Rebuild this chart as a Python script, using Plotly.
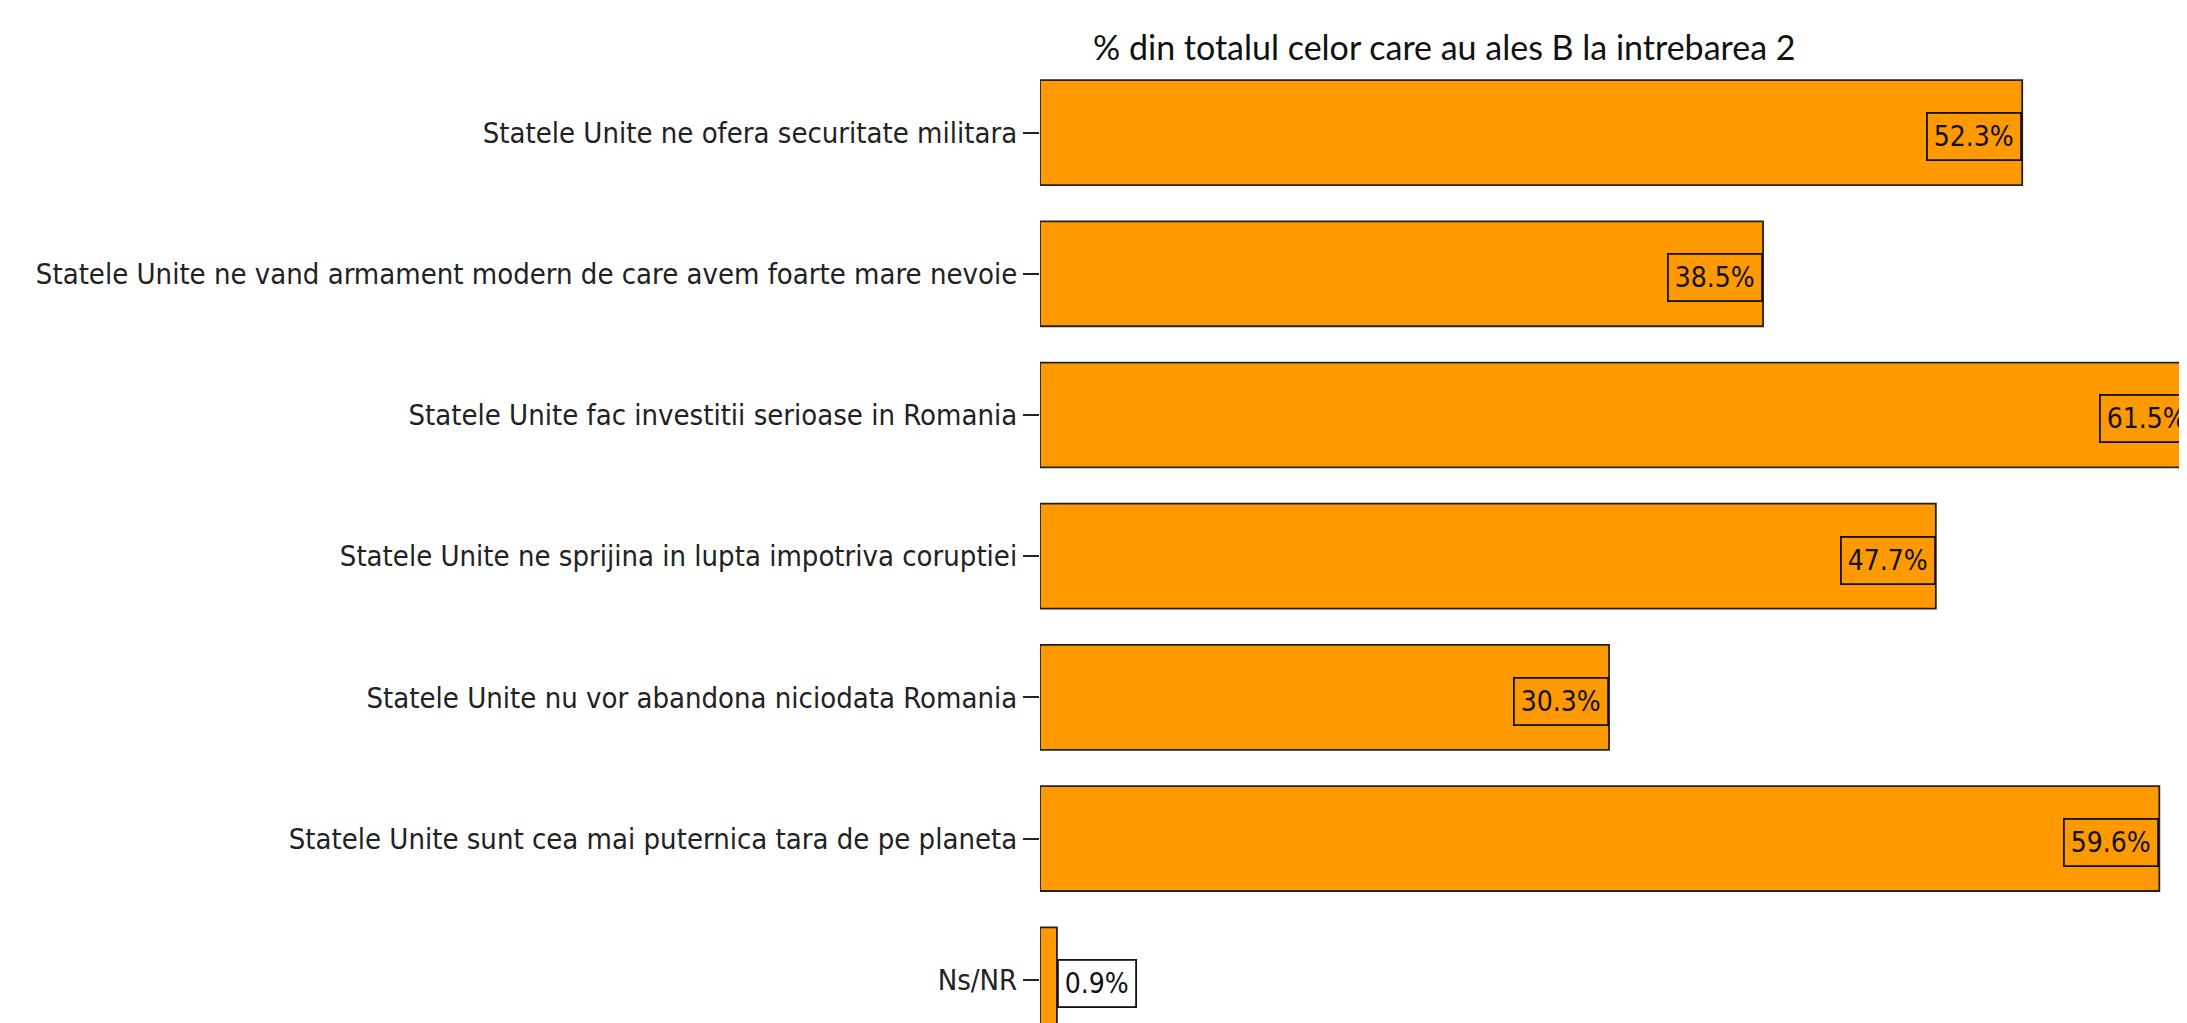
import plotly.graph_objects as go

categories = [
    "Statele Unite ne ofera securitate militara",
    "Statele Unite ne vand armament modern de care avem foarte mare nevoie",
    "Statele Unite fac investitii serioase in Romania",
    "Statele Unite ne sprijina in lupta impotriva coruptiei",
    "Statele Unite nu vor abandona niciodata Romania",
    "Statele Unite sunt cea mai puternica tara de pe planeta",
    "Ns/NR",
]
values = [52.3, 38.5, 61.5, 47.7, 30.3, 59.6, 0.9]
title_text = "% din totalul celor care au ales B la intrebarea 2"

FONT = "Liberation Sans Narrow, Arial Narrow, DejaVu Sans Condensed, Liberation Sans, Arial, sans-serif"
ORANGE = "#FF9900"

fig = go.Figure()
fig.add_trace(go.Bar(
    y=categories, x=values, orientation="h",
    marker=dict(color=ORANGE, line=dict(color="#222222", width=1.8)),
    width=0.743, hoverinfo="skip",
))

for c, v in zip(categories, values):
    inside = v > 5
    fig.add_annotation(
        x=v, y=c, xref="x", yref="y", showarrow=False,
        text=f"{v:.1f}%",
        xanchor="right" if inside else "left", yanchor="middle",
        yshift=-4,
        font=dict(family=FONT, size=28, color="#111111"),
        bordercolor="#111111", borderwidth=1.8, borderpad=6,
        bgcolor=ORANGE if inside else "white",
    )

fig.add_annotation(
    x=0.35, y=1.0165, xref="paper", yref="paper",
    xanchor="center", yanchor="middle", showarrow=False,
    text=title_text,
    font=dict(family="Lato, Open Sans, sans-serif", size=34, color="#111111"),
)

fig.update_layout(
    width=2187, height=1023,
    margin=dict(l=1032, r=0, t=54, b=0),
    plot_bgcolor="white", paper_bgcolor="white",
    showlegend=False,
    xaxis=dict(range=[0, 61.5], visible=False, fixedrange=True),
    yaxis=dict(
        type="category", categoryorder="array", categoryarray=categories,
        range=[6.363, -0.5], showgrid=False, zeroline=False, showline=False,
        ticks="outside", ticklen=16, tickwidth=2, tickcolor="#222222",
        tickfont=dict(family=FONT, size=29, color="#222222"),
        automargin=False,
    ),
)

fig.write_html("out.html")
